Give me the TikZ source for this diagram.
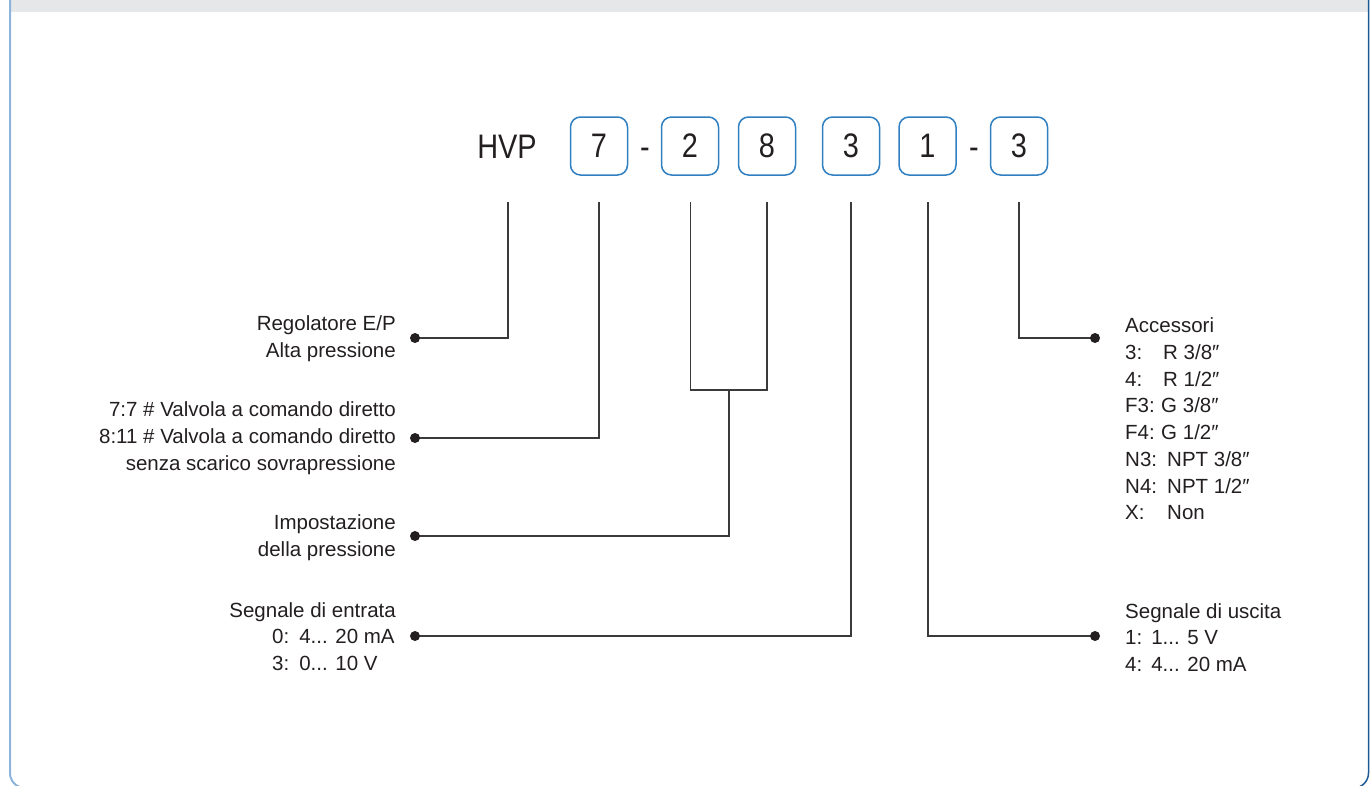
\documentclass[tikz,border=0pt]{standalone}
\usepackage{fontspec}
\setmainfont{Liberation Sans}
\newfontfamily\narrowf[FakeStretch=0.85]{Liberation Sans}
\definecolor{bandgray}{HTML}{E6E7E9}
\definecolor{framelight}{HTML}{8DB4DA}
\definecolor{framedark}{HTML}{1D5A94}
\definecolor{boxblue}{HTML}{2F7FC1}
\definecolor{linegray}{HTML}{3A3A3A}
\definecolor{txt}{HTML}{231F20}
\begin{document}
\begin{tikzpicture}[x=1pt,y=-1pt,
  lab/.style={inner sep=0pt, text=txt, font=\fontsize{20.5}{26.7}\selectfont},
  code/.style={inner sep=0pt, text=txt, font=\narrowf\fontsize{34}{40}\selectfont},
  digbox/.style={code, draw=boxblue, line width=1.5pt, rounded corners=10pt, minimum width=57pt, minimum height=58pt},
  conn/.style={draw=linegray, line width=1.2pt},
  dot/.style={circle, fill=txt, inner sep=0pt, minimum size=10pt}]
\useasboundingbox (0,0) rectangle (1370,785);
% frame
\fill[bandgray] (11,0) rectangle (1368,12);
\draw[framelight, line width=2pt, rounded corners=15pt] (10,-5) -- (10,788) -- (40,788);
\draw[framedark, line width=1.5pt, rounded corners=15pt] (1368.5,-5) -- (1368.5,788) -- (1330,788);
\draw[boxblue!70, line width=1.2pt] (40,788) -- (1330,788);
% code row
\node[code, anchor=base] (hvp) at (507,158) {HVP};
\node[digbox] (b7) at (599,146) {7};
\node[code, anchor=base] (m1) at (645,158) {-};
\node[digbox] (b2) at (690,146) {2};
\node[digbox] (b8) at (767,146) {8};
\node[digbox] (b3) at (851,146) {3};
\node[digbox] (b1) at (927.5,146) {1};
\node[code, anchor=base] (m2) at (974,158) {-};
\node[digbox] (b3b) at (1019,146) {3};
% stems
\coordinate (shvp) at (508,202);
\coordinate (s7) at (599,202);
\coordinate (s2) at (690.5,202);
\coordinate (s8) at (767,202);
\coordinate (s3) at (851,202);
\coordinate (s1) at (928,202);
\coordinate (s3b) at (1019,202);
\coordinate (j) at (729,390);
% dots
\coordinate (d1) at (415,338);
\coordinate (d2) at (415,438);
\coordinate (d3) at (415,536);
\coordinate (d4) at (415,636);
\coordinate (d5) at (1095,338);
\coordinate (d6) at (1095,636);
% connectors
\draw[conn] (shvp) |- (d1);
\draw[conn] (s7) |- (d2);
\draw[conn] (s2) |- (j) -| (s8);
\draw[conn] (j) |- (d3);
\draw[conn] (s3) |- (d4);
\draw[conn] (s1) |- (d6);
\draw[conn] (s3b) |- (d5);
\foreach \d in {d1,d2,d3,d4,d5,d6} \node[dot] at (\d) {};
% left labels
\node[lab, anchor=east, align=right] (l1) at (396,338.5) {Regolatore E/P\\Alta pressione};
\node[lab, anchor=east, align=right] (l2) at (396,438) {7:7 \# Valvola a comando diretto\\8:11 \# Valvola a comando diretto\\senza scarico sovrapressione};
\node[lab, anchor=east, align=right] (l3) at (396,538) {Impostazione\\della pressione};
\node[lab, anchor=east] (l4) at (396,612) {Segnale di entrata};
\node[lab, anchor=west, align=left] (l4s) at (272,650) {0:\hspace{10pt}4... 20 mA\\3:\hspace{10pt}0... 10 V};
% right labels
\node[lab, anchor=west, align=left] (r1) at (1125,419) {Accessori\\
\makebox[38pt][l]{3:}R 3/8″\\
\makebox[38pt][l]{4:}R 1/2″\\
\makebox[36pt][l]{F3:}G 3/8″\\
\makebox[36pt][l]{F4:}G 1/2″\\
\makebox[42pt][l]{N3:}NPT 3/8″\\
\makebox[42pt][l]{N4:}NPT 1/2″\\
\makebox[42pt][l]{X:}Non};
\node[lab, anchor=west, align=left] (r2) at (1125,637.5) {Segnale di uscita\\1:\hspace{9pt}1... 5 V\\4:\hspace{9pt}4... 20 mA};
\end{tikzpicture}
\end{document}
